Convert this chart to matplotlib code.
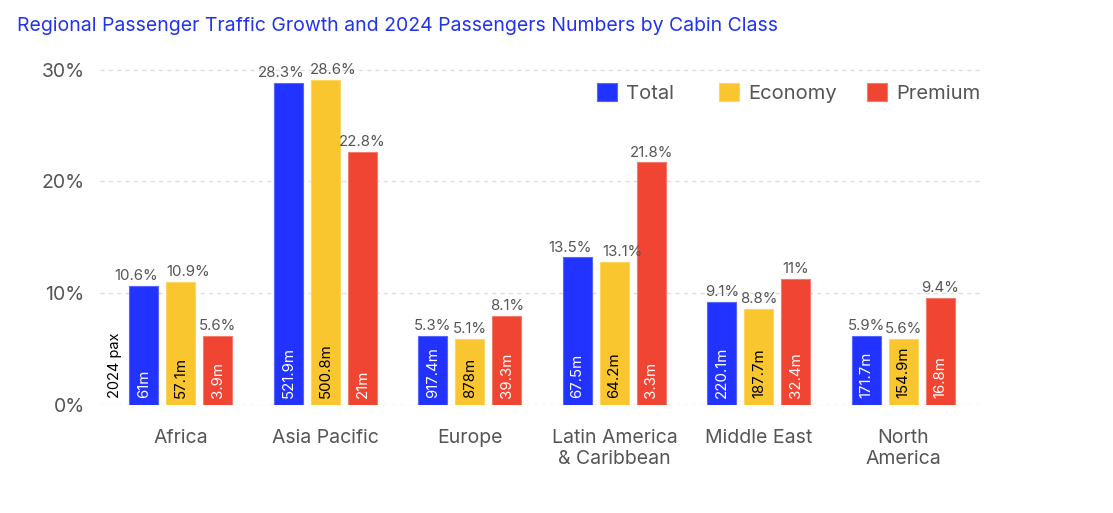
import matplotlib
matplotlib.use("Agg")
import matplotlib.pyplot as plt
import numpy as np

plt.rcParams['font.family'] = ['Inter', 'DejaVu Sans']

regions = ["Africa", "Asia Pacific", "Europe", "Latin America\n& Caribbean", "Middle East", "North\nAmerica"]
series = ["Total", "Economy", "Premium"]
# bar heights as drawn in the reference (growth %)
growth_total = [10.65, 28.8, 6.2, 13.2, 9.2, 6.2]
growth_economy = [11.0, 29.1, 5.9, 12.8, 8.6, 5.9]
growth_premium = [6.2, 22.65, 8.0, 21.7, 11.3, 9.6]
# printed growth labels
growth_labels_total = ["10.6%", "28.3%", "5.3%", "13.5%", "9.1%", "5.9%"]
growth_labels_economy = ["10.9%", "28.6%", "5.1%", "13.1%", "8.8%", "5.6%"]
growth_labels_premium = ["5.6%", "22.8%", "8.1%", "21.8%", "11%", "9.4%"]
# 2024 passengers
pax_total = ["61m", "521.9m", "917.4m", "67.5m", "220.1m", "171.7m"]
pax_economy = ["57.1m", "500.8m", "878m", "64.2m", "187.7m", "154.9m"]
pax_premium = ["3.9m", "21m", "39.3m", "3.3m", "32.4m", "16.8m"]
yticks = [0, 10, 20, 30]

colors = ["#2233ff", "#f9c630", "#f04532"]
edge_colors = ["#5566ff", "#fbd660", "#f47a6a"]
inner_colors = ["white", "black", "white"]
legend_x_px = [597, 719, 867]

fig = plt.figure(figsize=(11.13, 5.13), dpi=100)
ax = fig.add_axes([100/1113, 1 - 405/513, 880/1113, (405-64)/513])

x = np.arange(len(regions))
width = 0.2
step = 0.256
all_growth = [growth_total, growth_economy, growth_premium]
all_pax = [pax_total, pax_economy, pax_premium]
all_glab = [growth_labels_total, growth_labels_economy, growth_labels_premium]

handles = []
for i, s in enumerate(series):
    pos = x + (i - 1) * step
    bars = ax.bar(pos, all_growth[i], width, color=colors[i], edgecolor=edge_colors[i],
                  linewidth=0.8, label=s, zorder=3)
    handles.append(bars)
    for j, (b, v, lab, pax) in enumerate(zip(bars, all_growth[i], all_glab[i], all_pax[i])):
        dx = 0
        if i < 2:
            o = 1 - i
            other_v = all_growth[o][j]
            other_lab = all_glab[o][j]
            if abs(other_v - v) < 2.5 and len(lab) >= 5 and len(other_lab) >= 5:
                dx = -5.5 if i == 0 else 5.5
        ax.annotate(lab, (b.get_x() + b.get_width()/2, v), xytext=(dx, 2),
                    textcoords='offset points', ha='center', va='bottom',
                    fontsize=10.8, color='#555555', zorder=4)
        ax.text(b.get_x() + b.get_width()/2, 0.6, pax, ha='center', va='bottom',
                rotation=90, fontsize=10.8, color=inner_colors[i], zorder=4)

ax.text(x[0] - step - width/2 - 0.1, 0.6, "2024 pax", rotation=90, ha='center', va='bottom',
        fontsize=10.5, color='black', zorder=4)

ax.set_xlim(-0.56, 5.53)
ax.set_ylim(0, 30.5)
ax.set_yticks(yticks)
ax.set_yticklabels([f"{t}%" for t in yticks], fontsize=14, color='#555555')
ax.set_xticks(x)
ax.set_xticklabels(regions, fontsize=14, color='#555555', linespacing=1.25)
ax.tick_params(axis='x', length=0, pad=17)
ax.tick_params(axis='y', length=0, pad=11)
for sp in ax.spines.values():
    sp.set_visible(False)
ax.grid(axis='y', linestyle=(0, (3, 3)), color='#dddddd', linewidth=1, zorder=0)

for h, s, xp in zip(handles, series, legend_x_px):
    lg = fig.legend([h], [s], loc='center left', frameon=False, fontsize=14.5,
                    handlelength=1.0, handleheight=1.0, handletextpad=0.45,
                    borderpad=0, borderaxespad=0,
                    bbox_to_anchor=(xp/1113, 1 - 93/513), bbox_transform=fig.transFigure,
                    labelcolor='#555555')

fig.text(17/1113, 1 - 26/513, "Regional Passenger Traffic Growth and 2024 Passengers Numbers by Cabin Class",
         fontsize=14, color='#2233ee', va='center', ha='left')

fig.savefig("out.png", dpi=100)
